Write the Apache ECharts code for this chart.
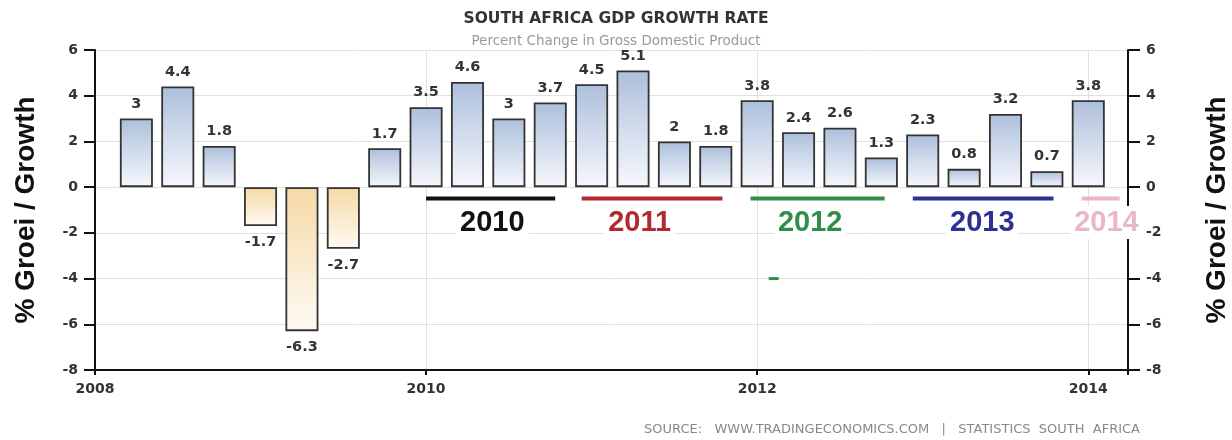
<!DOCTYPE html>
<html><head><meta charset="utf-8">
<script src="https://cdn.jsdelivr.net/npm/echarts@6/dist/echarts.min.js"></script>
<style>html,body{margin:0;padding:0;background:#fff}#c{width:1232px;height:440px}</style>
</head><body><div id="c"></div>
<script>
// ---- data ----
const quarters = ['2008Q1','2008Q2','2008Q3','2008Q4','2009Q1','2009Q2','2009Q3','2009Q4',
  '2010Q1','2010Q2','2010Q3','2010Q4','2011Q1','2011Q2','2011Q3','2011Q4',
  '2012Q1','2012Q2','2012Q3','2012Q4','2013Q1','2013Q2','2013Q3','2013Q4'];
const growth = [3, 4.4, 1.8, -1.7, -6.3, -2.7, 1.7, 3.5,
  4.6, 3, 3.7, 4.5, 5.1, 2, 1.8, 3.8,
  2.4, 2.6, 1.3, 2.3, 0.8, 3.2, 0.7, 3.8];
const xTickLabels = ['2008', '2010', '2012', '2014'];
// year annotations (data coordinates: decimal year / growth value)
const yearNames = ['2010', '2011', '2012', '2013', '2014'];
const yearColors = ['#111111', '#b02a30', '#2f8f48', '#2e3192', '#ebb6c9'];
const yearLineStart = [2010.0, 2010.94, 2011.96, 2012.94, 2013.96];
const yearLineEnd = [2010.78, 2011.79, 2012.77, 2013.79, 2014.19];
const yearTextX = [2010.40, 2011.29, 2012.32, 2013.36, 2014.11];
const yearLineY = -0.5;
const yearTextY = -1.55;
const strayMark = [2012.07, 2012.13, -4.0];

// ---- build ----
const barData = quarters.map((q, i) => {
  const yr = parseInt(q.slice(0, 4), 10);
  const qn = parseInt(q.slice(5), 10);
  const v = growth[i];
  const neg = v < 0;
  return {
    value: [yr + qn / 4, v],
    itemStyle: {
      color: new echarts.graphic.LinearGradient(0, 0, 0, 1, neg ?
        [{offset: 0, color: '#f6d9a6'}, {offset: 1, color: '#fefbf4'}] :
        [{offset: 0, color: '#adbfdc'}, {offset: 1, color: '#f6f8fc'}])
    },
    label: {position: neg ? 'bottom' : 'top', distance: neg ? 9 : 7}
  };
});

const annData = yearNames.map((n, i) => [yearLineStart[i], yearLineEnd[i], yearTextX[i], i]);

const labelFont = {fontFamily: 'DejaVu Sans', fontWeight: 'bold', fontSize: 14, color: '#333'};

const chart = echarts.init(document.getElementById('c'), null, {renderer: 'canvas'});
chart.setOption({
  animation: false,
  backgroundColor: '#fff',
  title: {
    text: 'SOUTH AFRICA GDP GROWTH RATE',
    subtext: 'Percent Change in Gross Domestic Product',
    left: 'center', top: 6, itemGap: 7,
    textStyle: {fontFamily: 'DejaVu Sans', fontWeight: 'bold', fontSize: 15.5, color: '#333'},
    subtextStyle: {fontFamily: 'DejaVu Sans', fontSize: 13.5, color: '#9a9a9a'}
  },
  grid: {left: 95, right: 104, top: 50, bottom: 70, containLabel: false, outerBoundsMode: 'none'},
  xAxis: {
    type: 'value', min: 2008, max: 2014.24, interval: 2,
    axisLine: {show: true, onZero: false, lineStyle: {color: '#111', width: 2}},
    axisTick: {show: true, length: 5, lineStyle: {color: '#111', width: 2}},
    axisLabel: Object.assign({margin: 12, formatter: v => xTickLabels.indexOf(String(v)) >= 0 ? String(v) : ''}, labelFont),
    splitLine: {show: true, lineStyle: {color: '#e0e0e0', width: 1}}
  },
  yAxis: [{
    type: 'value', min: -8, max: 6, interval: 2, position: 'left',
    name: '% Groei / Growth', nameLocation: 'middle', nameRotate: 90, nameGap: 55,
    nameTextStyle: {fontFamily: 'Liberation Sans', fontWeight: 'bold', fontSize: 28, color: '#111'},
    axisLine: {show: true, lineStyle: {color: '#111', width: 2}},
    axisTick: {show: true, length: 11, lineStyle: {color: '#111', width: 2}},
    axisLabel: Object.assign({margin: 17}, labelFont),
    splitLine: {show: true, lineStyle: {color: '#e0e0e0', width: 1}}
  }, {
    type: 'value', min: -8, max: 6, interval: 2, position: 'right',
    name: '% Groei / Growth', nameLocation: 'middle', nameRotate: 90, nameGap: 75,
    nameTextStyle: {fontFamily: 'Liberation Sans', fontWeight: 'bold', fontSize: 28, color: '#111'},
    axisLine: {show: true, lineStyle: {color: '#111', width: 2}},
    axisTick: {show: true, length: 12, lineStyle: {color: '#111', width: 2}},
    axisLabel: Object.assign({margin: 18}, labelFont),
    splitLine: {show: false}
  }],
  series: [{
    type: 'bar', yAxisIndex: 0, barWidth: 33,
    data: barData,
    itemStyle: {borderColor: '#333', borderWidth: 1.8},
    label: {show: true, fontFamily: 'DejaVu Sans', fontWeight: 'bold', fontSize: 14.5, color: '#333',
      formatter: p => String(p.value[1])},
    z: 3
  }, {
    type: 'custom', yAxisIndex: 0, z: 5, clip: false,
    data: annData,
    encode: {x: [0, 1], y: -1},
    renderItem: (params, api) => {
      const i = api.value(3);
      const p1 = api.coord([api.value(0), yearLineY]);
      const p2 = api.coord([api.value(1), yearLineY]);
      const pt = api.coord([api.value(2), yearTextY]);
      return {type: 'group', children: [
        {type: 'line', shape: {x1: p1[0], y1: p1[1], x2: p2[0], y2: p2[1]},
         style: {stroke: yearColors[i], lineWidth: 4}},
        {type: 'text', x: pt[0], y: pt[1],
         style: {text: yearNames[i], fill: yearColors[i], font: 'bold 29px "Liberation Sans"',
           align: 'center', verticalAlign: 'middle', backgroundColor: '#fff', padding: [2, 4]}}
      ]};
    }
  }, {
    type: 'custom', yAxisIndex: 0, z: 5, clip: false,
    data: [strayMark],
    encode: {x: [0, 1], y: 2},
    renderItem: (params, api) => {
      const a = api.coord([api.value(0), api.value(2)]);
      const b = api.coord([api.value(1), api.value(2)]);
      return {type: 'line', shape: {x1: a[0], y1: a[1], x2: b[0], y2: b[1]},
        style: {stroke: '#2f8f48', lineWidth: 3}};
    }
  }],
  graphic: [{
    type: 'text', right: 92, bottom: 4,
    style: {text: 'SOURCE:   WWW.TRADINGECONOMICS.COM   |   STATISTICS  SOUTH  AFRICA',
      fill: '#888', font: '13px "DejaVu Sans"'}
  }]
});
</script>
</body></html>
